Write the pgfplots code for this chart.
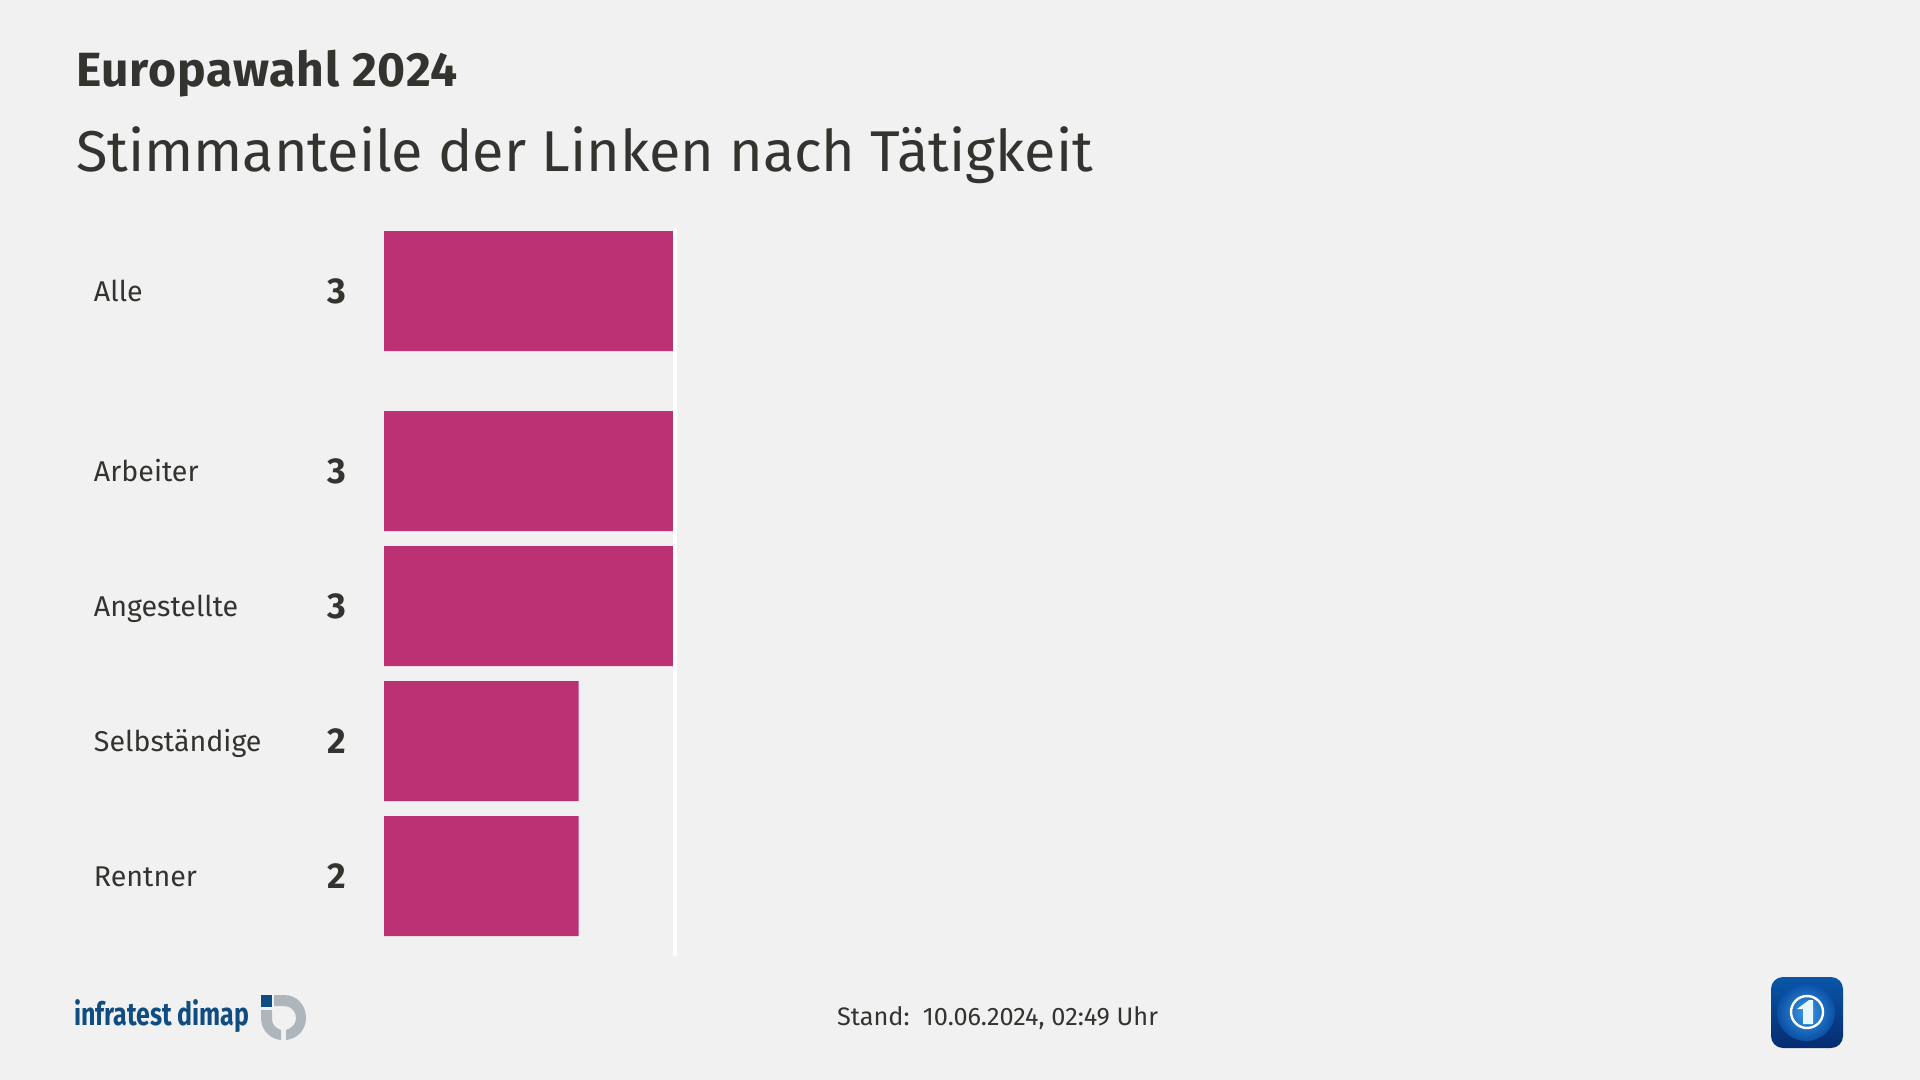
\documentclass[border=0pt]{standalone}
\usepackage{fontspec}
\setmainfont{Fira Sans}
\usepackage{pgfplots}
\usepackage{pgfplotstable}
\pgfplotsset{compat=1.18}
\definecolor{bgc}{HTML}{F1F1F1}
\definecolor{barc}{HTML}{BC3074}
\definecolor{txt}{HTML}{333330}
\definecolor{idblue}{HTML}{0F4C81}
\definecolor{idgrey}{HTML}{AEB6BD}
\definecolor{ardtop}{HTML}{0A56A8}
\definecolor{ardbot}{HTML}{062C70}
\definecolor{globein}{HTML}{3C9BE0}
\definecolor{globeout}{HTML}{0A4FA6}
\pgfplotstableread{
y v label zero
0 3 3 0
1.3333 3 3 0
2.3333 3 3 0
3.3333 2.02 2 0
4.3333 2.02 2 0
}\datatable
\begin{document}
\begin{tikzpicture}[x=0.5pt,y=-0.5pt,every node/.style={inner sep=0pt,outer sep=0pt,text=txt}]
\fill[bgc] (0,0) rectangle (1920,1080);
\node[anchor=base west,font=\fontsize{24}{27}\selectfont\bfseries\addfontfeature{LetterSpace=1.9}] at (76,87) {Europawahl 2024};
\node[anchor=base west,font=\fontsize{28.75}{33}\selectfont] at (76,172) {Stimmanteile der Linken nach Tätigkeit};
\begin{axis}[
  at={(192pt,-115.5pt)},anchor=north west,
  scale only axis,width=144.5pt,height=352.5pt,
  xmin=0,xmax=3,
  y dir=reverse,ymin=-0.4444,ymax=4.7778,
  axis line style={draw=none},
  axis x line=none,
  axis y line*=left,
  clip=false,
  ytick={0,1.3333,2.3333,3.3333,4.3333},
  yticklabels={Alle,Arbeiter,Angestellte,Selbständige,Rentner},
  major tick length=0pt,
  y tick label style={anchor=west,xshift=-145pt,yshift=-2.6pt,text height=0.7em,text depth=0.22em,font=\fontsize{14.3}{17}\selectfont,text=txt},
]
\addplot[xbar,bar width=60pt,fill=barc,draw=none,bar shift=0pt] table[x=v,y=y]{\datatable};
\addplot[only marks,mark=none,point meta=explicit symbolic,nodes near coords,
  every node near coord/.style={anchor=center,inner sep=0pt,text=txt,font=\fontsize{18}{21}\selectfont\bfseries,xshift=-23.6pt}]
  table[x=zero,y=y,meta=label]{\datatable};
\end{axis}
\draw[white,line width=2pt] (675,228) -- (675,956);
\node[anchor=base west,font=\fontsize{12.65}{15}\selectfont] at (837,1025) {Stand:\ \ 10.06.2024, 02:49 Uhr};
% infratest dimap logo
\node[anchor=base west,text=idblue,font=\fontsize{16}{18}\selectfont\bfseries,xscale=0.78] at (74,1025) {infratest dimap};
\fill[idblue] (261,995) rectangle (272,1007);
\fill[idgrey] (261,1010) -- (272,1010) -- (272,1019) .. controls (272,1024) and (275,1028) .. (281,1030) -- (281,1040) .. controls (270,1039) and (261,1030) .. (261,1018) -- cycle;
\fill[idgrey] (274,995) -- (284,995) .. controls (297,995) and (306,1005) .. (306,1018) .. controls (306,1030) and (297,1039) .. (286,1040) -- (286,1030) .. controls (292,1028) and (296,1024) .. (296,1018) .. controls (296,1011) and (291,1006) .. (284,1006) -- (274,1006) -- cycle;
% ARD logo
\shade[rounded corners=6pt,top color=ardtop,bottom color=ardbot] (1771,977) rectangle (1843,1048);
\shade[inner color=globein,outer color=globeout] (1806,1012) circle[radius=29];
\draw[white,line width=1.2pt] (1807,1012) circle[radius=16];
\fill[white!90!cyan] (1809,1000) -- (1813,1000) -- (1813,1024) -- (1803,1024) -- (1803,1009) -- (1797,1009) -- cycle;
\end{tikzpicture}
\end{document}
